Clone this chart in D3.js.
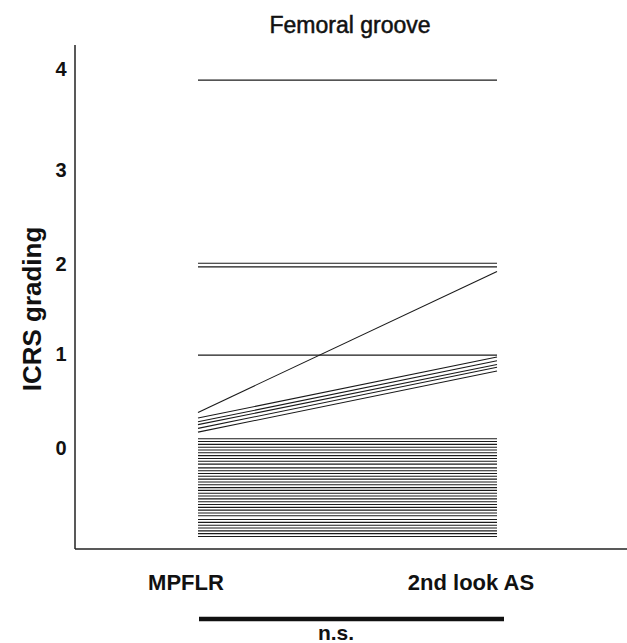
<!DOCTYPE html>
<html>
<head>
<meta charset="utf-8">
<script src="https://cdn.jsdelivr.net/npm/d3@7"></script>
<style>
  html, body { margin: 0; padding: 0; background: #fff; }
  svg { display: block; font-family: "Liberation Sans", Arial, Helvetica, sans-serif; }
</style>
</head>
<body>
<div id="chart"></div>
<script>
// time points (x categories)
const timePoints = ["MPFLR", "2nd look AS"];
// y axis tick labels (ICRS grade)
const gradeTicks = [0, 1, 2, 3, 4];
// one entry per knee: grade at MPFLR and at 2nd look arthroscopy
// (lines are drawn slightly apart so that equal grades stay visible)
const gradeMPFLR = [
  3.91, 2.03, 1.99, 0.40, 1.01,
  0.34, 0.30, 0.27, 0.23, 0.19,
  0.12, 0.09, 0.06, 0.03, 0.00, -0.03, -0.06, -0.09, -0.12, -0.15,
  -0.19, -0.22, -0.25, -0.28, -0.31, -0.34, -0.37, -0.40, -0.43, -0.46,
  -0.49, -0.52, -0.55, -0.58, -0.61, -0.64, -0.67, -0.70, -0.74, -0.77,
  -0.80, -0.83, -0.86, -0.89, -0.92
];
const gradeSecondLook = [
  3.91, 2.03, 1.99, 1.94, 1.01,
  0.99, 0.95, 0.91, 0.88, 0.84,
  0.12, 0.09, 0.06, 0.03, 0.00, -0.03, -0.06, -0.09, -0.12, -0.15,
  -0.19, -0.22, -0.25, -0.28, -0.31, -0.34, -0.37, -0.40, -0.43, -0.46,
  -0.49, -0.52, -0.55, -0.58, -0.61, -0.64, -0.67, -0.70, -0.74, -0.77,
  -0.80, -0.83, -0.86, -0.89, -0.92
];

let width = 627, height = 643;
let svg = d3.select("#chart").append("svg")
  .attr("width", width)
  .attr("height", height)
  .attr("viewBox", "0 0 " + width + " " + height);

// the original axis is not perfectly even, so map each grade
let y = d3.scaleLinear().domain(gradeTicks).range([450, 356, 266, 172, 71]);
let x = d3.scalePoint().domain(timePoints).range([198, 497]);

let axisX = 75, axisBottom = 549, axisTop = 45;

// title
svg.append("text")
  .attr("x", 350)
  .attr("y", 33)
  .attr("text-anchor", "middle")
  .attr("style", "font-size: 23px; font-weight: normal; fill: #111; stroke: #111; stroke-width: 0.5")
  .text("Femoral groove");

// y axis label
svg.append("text")
  .attr("transform", "translate(41," + 309 + ") rotate(-90)")
  .attr("text-anchor", "middle")
  .attr("style", "font-size: 26px; font-weight: bold; fill: #111")
  .text("ICRS grading");

// axes (plain lines, no tick marks)
svg.append("line")
  .attr("x1", axisX).attr("y1", axisTop)
  .attr("x2", axisX).attr("y2", axisBottom)
  .attr("stroke", "#222").attr("stroke-width", 1.5);
svg.append("line")
  .attr("x1", axisX).attr("y1", axisBottom)
  .attr("x2", width).attr("y2", axisBottom)
  .attr("stroke", "#222").attr("stroke-width", 1.5);

// grade labels
svg.selectAll(".tick").data(gradeTicks).enter().append("text")
  .attr("class", "tick")
  .attr("x", 61)
  .attr("y", d => y(d))
  .attr("dominant-baseline", "middle")
  .attr("text-anchor", "middle")
  .attr("style", "font-size: 20px; font-weight: bold; fill: #111")
  .text(d => d);

// one line per knee
let pairs = gradeMPFLR.map((g, i) => ({ a: g, b: gradeSecondLook[i] }));
svg.selectAll(".knee").data(pairs).enter().append("line")
  .attr("class", "knee")
  .attr("x1", x(timePoints[0]))
  .attr("y1", d => y(d.a))
  .attr("x2", x(timePoints[1]))
  .attr("y2", d => y(d.b))
  .attr("stroke", "#1a1a1a")
  .attr("stroke-width", 1.1);

// category labels
let labelShift = [-12, -26];
svg.selectAll(".cat").data(timePoints).enter().append("text")
  .attr("class", "cat")
  .attr("x", (d, i) => x(d) + labelShift[i])
  .attr("y", 590)
  .attr("text-anchor", "middle")
  .attr("style", "font-size: 22px; font-weight: bold; fill: #111")
  .text(d => d);

// significance bar
svg.append("line")
  .attr("x1", x(timePoints[0]) + 1)
  .attr("y1", 619)
  .attr("x2", x(timePoints[1]) + 7)
  .attr("y2", 619)
  .attr("stroke", "#111")
  .attr("stroke-width", 4.5);
svg.append("text")
  .attr("x", 336)
  .attr("y", 640)
  .attr("text-anchor", "middle")
  .attr("style", "font-size: 21px; font-weight: bold; fill: #111")
  .text("n.s.");
</script>
</body>
</html>
